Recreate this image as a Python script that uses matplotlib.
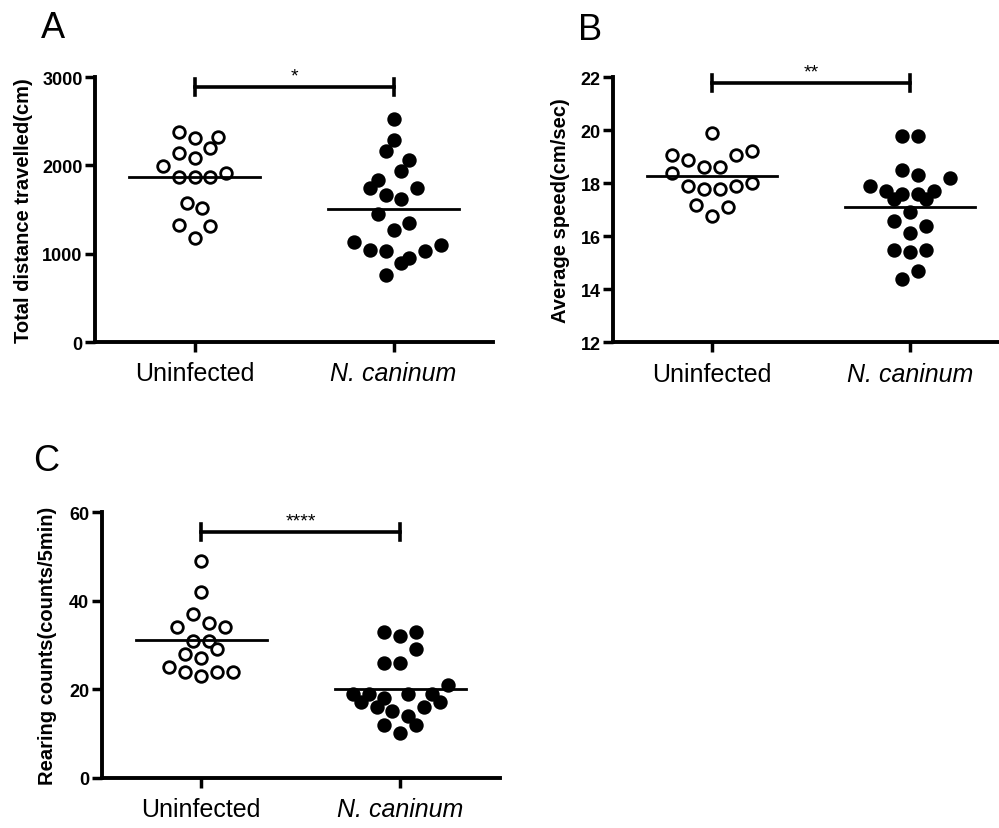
import numpy as np
import matplotlib.pyplot as plt

plt.rcParams['font.family'] = ['Liberation Sans', 'DejaVu Sans']

groups = ['Uninfected', 'N. caninum']

# A: total distance travelled (cm)
dist_uninf = [2381, 2313, 2317, 2200, 2143, 2083, 1996, 1917, 1864, 1864, 1864,
              1570, 1513, 1325, 1313, 1174]
dist_uninf_cols = [-1, 0, 1.5, 1, -1, 0, -2, 2, -1, 0, 1, -0.5, 0.5, -1, 1, 0]
dist_nc = [2528, 2283, 2166, 2060, 1940, 1830, 1747, 1743, 1664, 1619, 1449,
           1347, 1272, 1128, 1042, 1030, 1102, 1026, 951, 891, 755]
dist_nc_cols = [0, 0, -0.5, 1, 0.5, -1, -1.5, 1.5, -0.5, 0.5, -1, 1, 0, -2.5,
                -1.5, -0.5, 3, 2, 1, 0.5, -0.5]

# B: average speed (cm/sec)
speed_uninf = [19.90, 19.08, 18.89, 19.08, 19.21, 18.60, 18.60, 18.39, 17.89,
               17.79, 17.79, 17.89, 18.00, 17.19, 17.12, 16.78]
speed_uninf_cols = [0, -2.5, -1.5, 1.5, 2.5, -0.5, 0.5, -2.5, -1.5, -0.5, 0.5,
                    1.5, 2.5, -1, 1, 0]
speed_nc = [19.80, 19.80, 18.50, 18.30, 18.21, 17.89, 17.70, 17.61, 17.61, 17.70,
            17.41, 17.41, 16.91, 16.59, 16.40, 16.11, 15.50, 15.50, 15.40, 14.69, 14.39]
speed_nc_cols = [-0.5, 0.5, -0.5, 0.5, 2.5, -2.5, -1.5, -0.5, 0.5, 1.5, -1, 1, 0,
                 -1, 1, 0, -1, 1, 0, 0.5, -0.5]

# C: rearing counts (counts/5min)
rear_uninf = [49, 42, 37, 35, 34, 34, 31, 31, 29, 28, 27, 25, 24, 24, 24, 23]
rear_uninf_cols = [0, 0, -0.5, 0.5, -1.5, 1.5, -0.5, 0.5, 1, -1, 0, -2, 2, -1, 1, 0]
rear_nc = [33, 32, 33, 29, 26, 26, 21, 19, 19, 19, 19, 18, 17, 17, 16, 16, 15,
           14, 12, 12, 10]
rear_nc_cols = [-1, 0, 1, 1, -1, 0, 3, -3, -2, 0.5, 2, -1, -2.5, 2.5, -1.5, 1.5,
                -0.5, 0.5, -1, 1, 0]

panels = [
    dict(letter='A', pos=[0.0951, 0.5862, 0.3984, 0.3197], data=(dist_uninf, dist_nc),
         cols=(dist_uninf_cols, dist_nc_cols), ylim=(0, 3000), ticks=[0, 1000, 2000, 3000],
         ylabel='Total distance travelled(cm)', sig='*', bar=2883, lab_x=-0.156,
         letter_xy=(53, 29)),
    dict(letter='B', pos=[0.6136, 0.5859, 0.3964, 0.3197], data=(speed_uninf, speed_nc),
         cols=(speed_uninf_cols, speed_nc_cols), ylim=(12, 22), ticks=[12, 14, 16, 18, 20, 22],
         ylabel='Average speed(cm/sec)', sig='**', bar=21.77, lab_x=-0.109,
         letter_xy=(590, 30)),
    dict(letter='C', pos=[0.1018, 0.0607, 0.3987, 0.3201], data=(rear_uninf, rear_nc),
         cols=(rear_uninf_cols, rear_nc_cols), ylim=(0, 60), ticks=[0, 20, 40, 60],
         ylabel='Rearing counts(counts/5min)', sig='****', bar=55.5, lab_x=-0.112,
         letter_xy=(46, 462)),
]

fig = plt.figure(figsize=(9.99, 8.29), dpi=100)
step = 0.08

for p in panels:
    ax = fig.add_axes(p['pos'])
    for i, (vals, cols) in enumerate(zip(p['data'], p['cols'])):
        x = i + np.array(cols) * step
        face = 'white' if i == 0 else 'black'
        ax.scatter(x, vals, s=70, facecolor=face, edgecolor='black', linewidth=2.0,
                   zorder=3, clip_on=False)
        m = np.mean(vals)
        ax.plot([i - 0.33, i + 0.33], [m, m], color='black', lw=2.0, zorder=4)

    yr = p['ylim'][1] - p['ylim'][0]
    b = p['bar']
    h = yr * 0.03
    ax.plot([0, 1], [b, b], color='black', lw=2.6, clip_on=False)
    ax.plot([0, 0], [b - h, b + h], color='black', lw=2.6, clip_on=False)
    ax.plot([1, 1], [b - h, b + h], color='black', lw=2.6, clip_on=False)
    ax.text(0.5, b + yr * 0.012, p['sig'], ha='center', va='bottom', fontsize=14)

    ax.set_xlim(-0.5, 1.5)
    ax.set_ylim(*p['ylim'])
    ax.set_yticks(p['ticks'])
    ax.set_xticks([0, 1])
    ax.set_xticklabels(groups, fontsize=18)
    ax.get_xticklabels()[1].set_style('italic')
    for t in ax.get_yticklabels():
        t.set_fontweight('bold')
        t.set_fontsize(13)
    ax.spines['top'].set_visible(False)
    ax.spines['right'].set_visible(False)
    for s in ('left', 'bottom'):
        ax.spines[s].set_linewidth(2.8)
    ax.tick_params(axis='y', length=7, width=2.5, pad=2)
    ax.tick_params(axis='x', length=7, width=2.5, pad=7)
    ax.set_ylabel(p['ylabel'], fontsize=14.5, fontweight='bold')
    ax.yaxis.set_label_coords(p['lab_x'], 0.5)
    fig.text(p['letter_xy'][0] / 999, 1 - p['letter_xy'][1] / 829, p['letter'],
             fontsize=26, ha='center', va='center')

fig.savefig('out.png', dpi=100)
